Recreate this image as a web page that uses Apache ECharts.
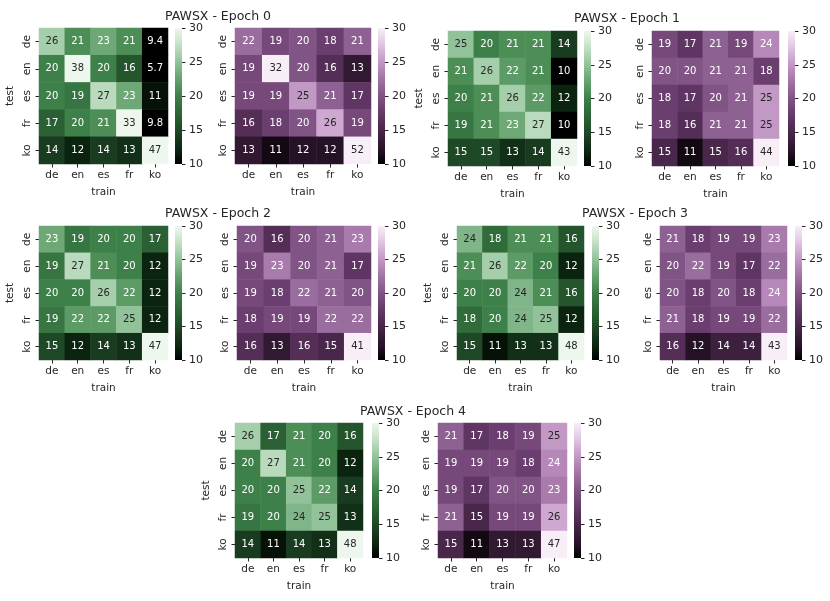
<!DOCTYPE html>
<html>
<head>
<meta charset="utf-8">
<script src="https://cdn.jsdelivr.net/npm/echarts@6/dist/echarts.min.js"></script>
<style>
  html, body { margin: 0; padding: 0; background: #fff; }
  #chart { width: 830px; height: 601px; }
</style>
</head>
<body>
<div id="chart"></div>
<script>
// categories (rows = test language, columns = train language)
const langs = ['de', 'en', 'es', 'fr', 'ko'];
const titles = ['PAWSX - Epoch 0', 'PAWSX - Epoch 1', 'PAWSX - Epoch 2', 'PAWSX - Epoch 3', 'PAWSX - Epoch 4'];
const cbarTicks = [10, 15, 20, 25, 30];

// green (left) heatmaps
const greenE0 = [[26, 21, 23, 21, 9.4], [20, 38, 20, 16, 5.7], [20, 19, 27, 23, 11], [17, 20, 21, 33, 9.8], [14, 12, 14, 13, 47]];
const greenE1 = [[25, 20, 21, 21, 14], [21, 26, 22, 21, 10], [20, 21, 26, 22, 12], [19, 21, 23, 27, 10], [15, 15, 13, 14, 43]];
const greenE2 = [[23, 19, 20, 20, 17], [19, 27, 21, 20, 12], [20, 20, 26, 22, 12], [19, 22, 22, 25, 12], [15, 12, 14, 13, 47]];
const greenE3 = [[24, 18, 21, 21, 16], [21, 26, 22, 20, 12], [20, 20, 24, 21, 16], [18, 20, 24, 25, 12], [15, 11, 13, 13, 48]];
const greenE4 = [[26, 17, 21, 20, 16], [20, 27, 21, 20, 12], [20, 20, 25, 22, 14], [19, 20, 24, 25, 13], [14, 11, 14, 13, 48]];

// purple (right) heatmaps
const purpleE0 = [[22, 19, 20, 18, 21], [19, 32, 20, 16, 13], [19, 19, 25, 21, 17], [16, 18, 20, 26, 19], [13, 11, 12, 12, 52]];
const purpleE1 = [[19, 17, 21, 19, 24], [20, 20, 21, 21, 18], [18, 17, 20, 21, 25], [18, 16, 21, 21, 25], [15, 11, 15, 16, 44]];
const purpleE2 = [[20, 16, 20, 21, 23], [19, 23, 20, 21, 17], [19, 18, 22, 21, 20], [18, 19, 19, 22, 22], [16, 13, 16, 15, 41]];
const purpleE3 = [[21, 18, 19, 19, 23], [20, 22, 19, 17, 22], [20, 18, 20, 18, 24], [21, 18, 19, 19, 22], [16, 12, 14, 14, 43]];
const purpleE4 = [[21, 17, 18, 19, 25], [19, 19, 19, 18, 24], [19, 17, 20, 20, 23], [21, 15, 19, 19, 26], [15, 11, 13, 13, 47]];

const greens = [greenE0, greenE1, greenE2, greenE3, greenE4];
const purples = [purpleE0, purpleE1, purpleE2, purpleE3, purpleE4];

// colour maps (value -> colour), clamped to 10..30
const greenStops = [[10, '#000000'], [12, '#0b2410'], [14, '#193c20'], [16, '#24552c'], [18, '#306b3a'],
  [20, '#3e8049'], [22, '#5c9b65'], [24, '#7fb588'], [26, '#a5cfab'], [28, '#cce5ce'], [30, '#eef7ee']];
const purpleStops = [[10, '#000000'], [12, '#261226'], [14, '#3d1f3e'], [16, '#542e57'], [18, '#6a3e6e'],
  [20, '#815486'], [22, '#9a6d9f'], [24, '#b588b9'], [26, '#cea8d1'], [28, '#e4cde6'], [30, '#f7eef7']];

function hex2rgb(h) {
  return [parseInt(h.slice(1, 3), 16), parseInt(h.slice(3, 5), 16), parseInt(h.slice(5, 7), 16)];
}
function cmap(stops, v) {
  v = Math.max(10, Math.min(30, v));
  for (let i = 1; i < stops.length; i++) {
    if (v <= stops[i][0]) {
      const t = (v - stops[i - 1][0]) / (stops[i][0] - stops[i - 1][0]);
      const a = hex2rgb(stops[i - 1][1]), b = hex2rgb(stops[i][1]);
      return 'rgb(' + a.map((c, k) => Math.round(c + (b[k] - c) * t)).join(',') + ')';
    }
  }
  return stops[stops.length - 1][1];
}
function gradient(stops) {
  return new echarts.graphic.LinearGradient(0, 1, 0, 0,
    stops.map(s => ({ offset: (s[0] - 10) / 20, color: s[1] })));
}

// layout: [left, top, width, height] for heatmap, colourbar left edge, per epoch
const layout = [
  { title: [213, 5], lh: [39, 28, 129, 136], lc: 175, rh: [235, 28, 136, 136], rc: 378 },
  { title: [622, 7], lh: [448, 31, 129, 135], lc: 584, rh: [652, 31, 127, 135], rc: 788 },
  { title: [213, 202], lh: [39, 226, 129, 134], lc: 175, rh: [237, 226, 134, 134], rc: 378 },
  { title: [630, 202], lh: [457, 226, 127, 134], lc: 592, rh: [660, 226, 127, 134], rc: 795 },
  { title: [408, 400], lh: [235, 423, 128, 135], lc: 372, rh: [438, 423, 129, 135], rc: 574 }
];

const FONT = 'DejaVu Sans';
const txt = '#262626';
const grid = [], xAxis = [], yAxis = [], series = [], title = [];

function addHeatmap(box, mat, stops, darkFrom, showTest) {
  const gi = grid.length;
  grid.push({ left: box[0], top: box[1], width: box[2], height: box[3] });
  xAxis.push({
    type: 'category', gridIndex: gi, data: langs,
    name: 'train', nameLocation: 'middle', nameGap: 23,
    nameTextStyle: { fontFamily: FONT, fontSize: 10.5, color: txt },
    axisLine: { show: false }, splitArea: { show: false },
    axisTick: { show: true, alignWithLabel: true, length: 3.5, lineStyle: { color: txt } },
    axisLabel: { fontFamily: FONT, fontSize: 10.5, color: txt, margin: 6 }
  });
  yAxis.push({
    type: 'category', gridIndex: gi, data: langs, inverse: true,
    name: showTest ? 'test' : '', nameLocation: 'middle', nameGap: 23, nameRotate: 90,
    nameTextStyle: { fontFamily: FONT, fontSize: 10.5, color: txt },
    axisLine: { show: false }, splitArea: { show: false },
    axisTick: { show: true, alignWithLabel: true, length: 3.5, lineStyle: { color: txt } },
    axisLabel: { fontFamily: FONT, fontSize: 10.5, color: txt, rotate: 90, margin: 6 }
  });
  const data = [];
  mat.forEach((row, r) => row.forEach((v, c) => {
    data.push({
      value: [c, r, v],
      itemStyle: { color: cmap(stops, v) },
      label: { color: v >= darkFrom ? txt : '#ffffff' }
    });
  }));
  series.push({
    type: 'heatmap', xAxisIndex: gi, yAxisIndex: gi, data: data,
    label: { show: true, fontFamily: FONT, fontSize: 10, formatter: p => String(p.value[2]) },
    emphasis: { disabled: true }, animation: false
  });
}

function addColorbar(x, box, stops) {
  const gi = grid.length;
  grid.push({ left: x, top: box[1], width: 7, height: box[3], show: true, borderWidth: 0,
    backgroundColor: gradient(stops) });
  xAxis.push({ type: 'category', gridIndex: gi, data: [''], show: false });
  yAxis.push({
    type: 'value', gridIndex: gi, min: 10, max: 30, interval: 5, position: 'right',
    axisLine: { show: false }, splitLine: { show: false },
    axisTick: { show: true, length: 3.5, lineStyle: { color: txt } },
    axisLabel: { fontFamily: FONT, fontSize: 11, color: txt, margin: 7,
      formatter: v => cbarTicks.indexOf(v) >= 0 ? String(v) : '' }
  });
  series.push({ type: 'line', xAxisIndex: gi, yAxisIndex: gi, data: [], silent: true });
}

layout.forEach((L, i) => {
  title.push({
    text: titles[i], left: L.title[0], top: L.title[1], textAlign: 'center',
    textStyle: { fontFamily: FONT, fontSize: 12.5, fontWeight: 'normal', color: txt }
  });
  addHeatmap(L.lh, greens[i], greenStops, 24, true);
  addColorbar(L.lc, L.lh, greenStops);
  addHeatmap(L.rh, purples[i], purpleStops, 25, false);
  addColorbar(L.rc, L.rh, purpleStops);
});

const chart = echarts.init(document.getElementById('chart'));
chart.setOption({
  backgroundColor: '#ffffff',
  animation: false,
  title: title,
  grid: grid,
  xAxis: xAxis,
  yAxis: yAxis,
  series: series
});
</script>
</body>
</html>
